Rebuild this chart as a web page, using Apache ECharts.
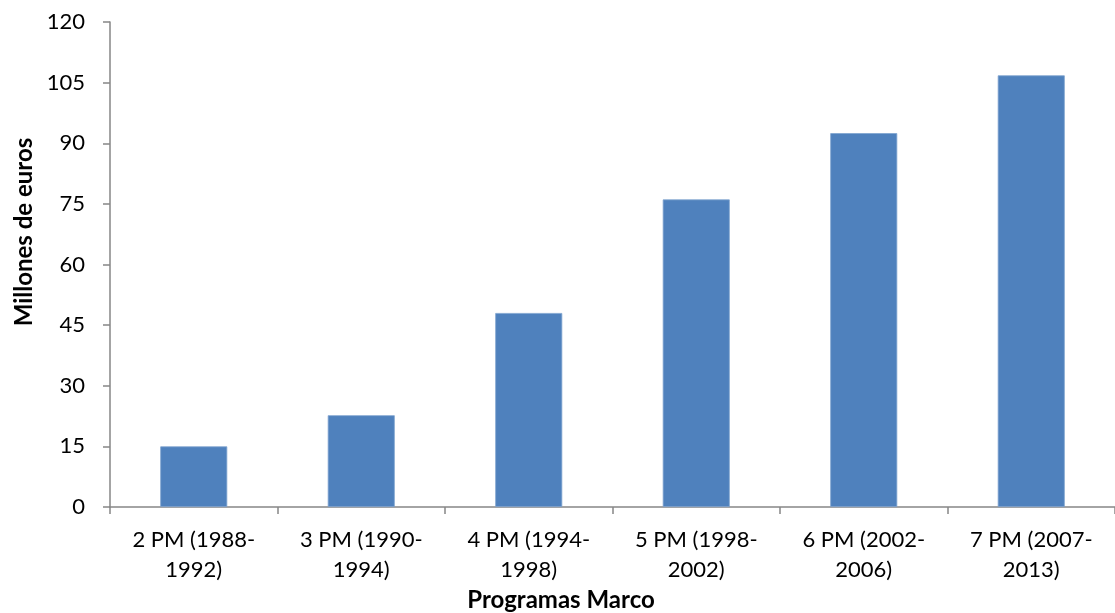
<!DOCTYPE html>
<html>
<head>
<meta charset="utf-8">
<script src="https://cdn.jsdelivr.net/npm/echarts@6/dist/echarts.min.js"></script>
<style>
  html, body { margin: 0; padding: 0; background: #ffffff; }
  #chart { width: 1115px; height: 613px; }
</style>
</head>
<body>
<div id="chart"></div>
<script>
// Funding per EU Framework Programme (millions of euros)
const categories = [
  '2 PM (1988-\n1992)',
  '3 PM (1990-\n1994)',
  '4 PM (1994-\n1998)',
  '5 PM (1998-\n2002)',
  '6 PM (2002-\n2006)',
  '7 PM (2007-\n2013)'
];
const values = [15, 22.7, 48, 76.1, 92.5, 106.8];
const yTicks = { min: 0, max: 120, interval: 15 };
const yTitle = 'Millones de euros';
const xTitle = 'Programas Marco';

const FONT = 'Lato, "Open Sans", sans-serif';
const AXIS_GRAY = '#868686';

const chart = echarts.init(document.getElementById('chart'), null, { renderer: 'canvas' });
chart.setOption({
  animation: false,
  backgroundColor: '#ffffff',
  grid: { left: 110, top: 22, width: 1014, height: 485, containLabel: false },
  xAxis: {
    type: 'category',
    data: categories,
    axisLine: { lineStyle: { color: AXIS_GRAY, width: 1.5 } },
    axisTick: { show: true, length: 7, alignWithLabel: false, lineStyle: { color: AXIS_GRAY, width: 1.5 } },
    axisLabel: {
      interval: 0,
      margin: 18,
      color: '#000000',
      fontFamily: FONT,
      fontSize: 22,
      lineHeight: 30,
      align: 'center'
    }
  },
  yAxis: {
    type: 'value',
    min: yTicks.min,
    max: yTicks.max,
    interval: yTicks.interval,
    splitLine: { show: false },
    axisLine: { show: true, lineStyle: { color: AXIS_GRAY, width: 1.5 } },
    axisTick: { show: true, length: 7, lineStyle: { color: AXIS_GRAY, width: 1.5 } },
    axisLabel: {
      margin: 25,
      color: '#000000',
      fontFamily: FONT,
      fontSize: 22
    }
  },
  series: [{
    type: 'bar',
    data: values,
    barWidth: '40%',
    itemStyle: { color: '#4F81BD', borderColor: '#7FA3CF', borderWidth: 0.8 }
  }],
  graphic: [
    {
      type: 'text',
      x: 24, y: 232,
      rotation: Math.PI / 2,
      style: {
        text: yTitle,
        fill: '#000000',
        font: 'bold 24px ' + FONT,
        textAlign: 'center',
        textVerticalAlign: 'middle'
      }
    },
    {
      type: 'text',
      x: 561, y: 600,
      style: {
        text: xTitle,
        fill: '#000000',
        font: 'bold 24px ' + FONT,
        textAlign: 'center',
        textVerticalAlign: 'middle'
      }
    }
  ]
});
</script>
</body>
</html>
